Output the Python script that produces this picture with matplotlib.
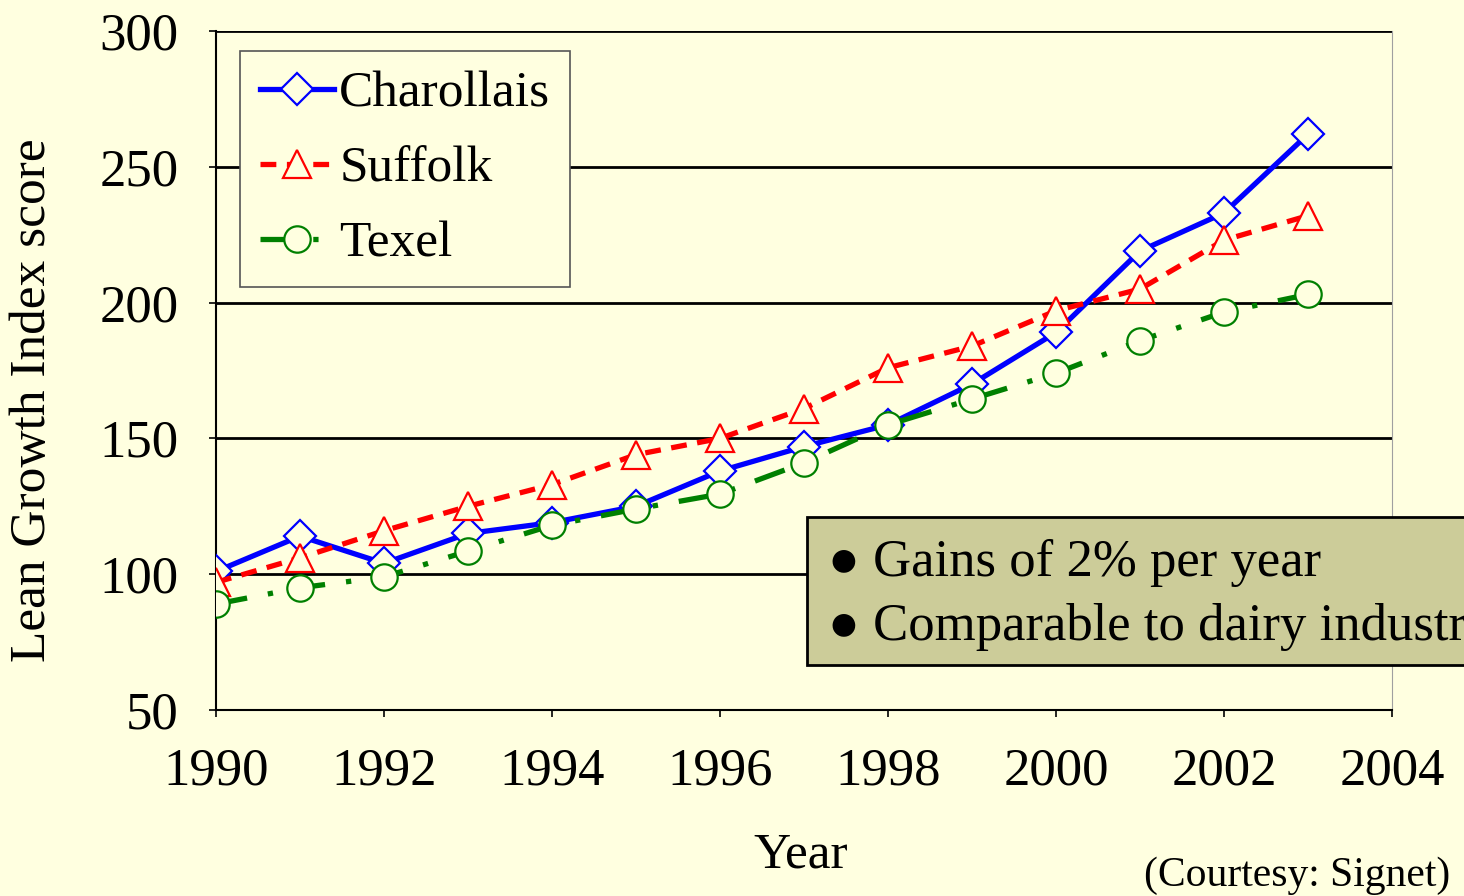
import matplotlib
matplotlib.use("Agg")
import matplotlib.pyplot as plt
from matplotlib.patches import Rectangle

years = [1990, 1991, 1992, 1993, 1994, 1995, 1996, 1997, 1998, 1999, 2000, 2001, 2002, 2003]
charollais = [101, 114, 104, 115, 119, 125, 138, 147, 155, 170, 189, 219, 233, 262]
suffolk = [97, 106, 116, 125, 133, 144, 150, 161, 176, 184, 197, 205, 223, 232]
texel = [89, 95, 99, 108.5, 118, 124, 129.5, 141, 155, 164.5, 174, 186, 196.5, 203]
xticks = [1990, 1992, 1994, 1996, 1998, 2000, 2002, 2004]
yticks = [50, 100, 150, 200, 250, 300]
notes = ["\u25CF Gains of 2% per year", "\u25CF Comparable to dairy industry"]

bg = "#FFFFE0"
plt.rcParams['font.family'] = ['Liberation Serif', 'DejaVu Serif']

fig = plt.figure(figsize=(14.64, 8.96), dpi=100, facecolor=bg)
ax = fig.add_axes([216/1464, 1-710/896, (1392-216)/1464, (710-31)/896])
ax.set_facecolor(bg)

ax.plot(years, charollais, color="#0000FF", lw=3.8, marker="D", ms=16, mfc=bg, mec="#0000FF",
        mew=1.6, label="Charollais", zorder=3)
ax.plot(years, suffolk, color="#FF0000", lw=3.8, ls=(0, (3, 2)), marker="^", ms=20, mfc=bg,
        mec="#FF0000", mew=1.6, label="Suffolk", zorder=3)
ax.plot(years, texel, color="#008000", lw=3.8, ls=(0, (6, 4, 1, 4)), marker="o", ms=19, mfc=bg,
        mec="#008000", mew=1.6, label="Texel", zorder=3)

ax.set_xlim(1990, 2004)
ax.set_ylim(50, 300)
ax.set_xticks(xticks)
ax.set_yticks(yticks)
ax.yaxis.grid(True, color="black", lw=2)
ax.set_axisbelow(True)
ax.tick_params(labelsize=38, length=5, width=1.2, direction="out", pad=22)
ax.spines["top"].set_visible(False)
ax.spines["right"].set_color("#A0A0A0")
ax.spines["left"].set_linewidth(1.5)
ax.spines["bottom"].set_linewidth(1.5)

ax.set_xlabel("Year", fontsize=37)
ax.set_ylabel("Lean Growth Index score", fontsize=37)
ax.xaxis.set_label_coords(585/1176, (710-855)/679)
ax.xaxis.label.set_va("center")
ax.yaxis.set_label_coords((33-216)/1176, (710-400)/679)
ax.yaxis.label.set_va("center")

leg = ax.legend(loc="upper left", bbox_to_anchor=(24/1176, (710-51)/679), fontsize=37, frameon=True,
                fancybox=False, edgecolor="#555555", facecolor=bg, framealpha=1,
                handlelength=1.45, handletextpad=0.1, labelspacing=0.55, borderpad=0.38,
                borderaxespad=0)
leg.get_frame().set_linewidth(1.2)

# annotation box
fig.patches.append(Rectangle((807/1464, 1-665/896), (1470-807)/1464, (665-517)/896,
                             transform=fig.transFigure, facecolor="#CCCC99", edgecolor="black",
                             lw=2, zorder=5))
fig.text(828/1464, 1-563/896, notes[0], fontsize=38, va="center", ha="left", zorder=6)
fig.text(828/1464, 1-627/896, notes[1], fontsize=38, va="center", ha="left", zorder=6)

fig.text(1450/1464, 1-876/896, "(Courtesy: Signet)", fontsize=30, ha="right", va="center")

fig.savefig("out.png", dpi=100, facecolor=bg)
